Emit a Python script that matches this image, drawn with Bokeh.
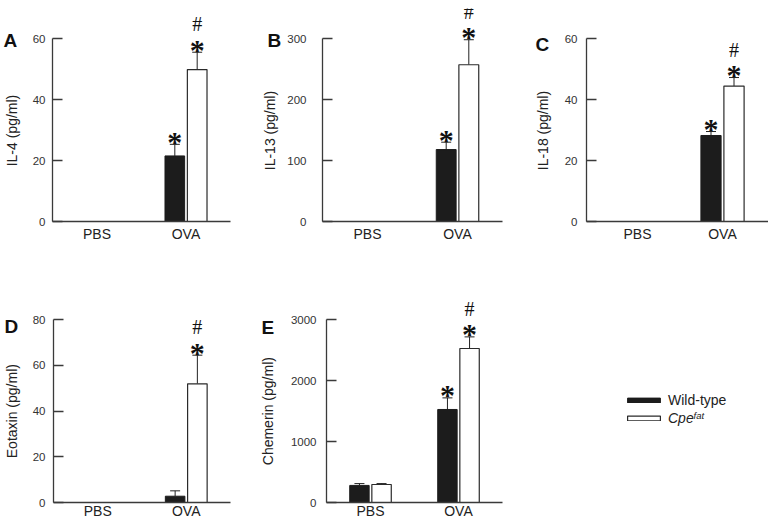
from bokeh.plotting import figure
from bokeh.models import (ColumnDataSource, Range1d, FixedTicker, Whisker, TeeHead,
                          LabelSet, Label, Legend, LegendItem, Title)
from bokeh.transform import dodge
from bokeh.layouts import column, row
from bokeh.embed import file_html
from bokeh.resources import INLINE

# ---------------- data ----------------
categories = ["PBS", "OVA"]
genotypes = ["Wild-type", "Cpe"]

il4_wt = [0, 21.5]
il4_wt_sem = [0, 3.8]
il4_cpe = [0, 49.8]
il4_cpe_sem = [0, 5.7]
il4_wt_mark = ["", "*"]
il4_cpe_mark = ["", "*"]
il4_cpe_hash = ["", "#"]
il4_ticks = [0, 20, 40, 60]

il13_wt = [0, 118]
il13_wt_sem = [0, 12]
il13_cpe = [0, 257]
il13_cpe_sem = [0, 41]
il13_wt_mark = ["", "*"]
il13_cpe_mark = ["", "*"]
il13_cpe_hash = ["", "#"]
il13_ticks = [0, 100, 200, 300]

il18_wt = [0, 28.2]
il18_wt_sem = [0, 1.3]
il18_cpe = [0, 44.4]
il18_cpe_sem = [0, 2.8]
il18_wt_mark = ["", "*"]
il18_cpe_mark = ["", "*"]
il18_cpe_hash = ["", "#"]
il18_ticks = [0, 20, 40, 60]

eot_wt = [0, 2.75]
eot_wt_sem = [0, 2.35]
eot_cpe = [0, 51.9]
eot_cpe_sem = [0, 12.5]
eot_wt_mark = ["", ""]
eot_cpe_mark = ["", "*"]
eot_cpe_hash = ["", "#"]
eot_ticks = [0, 20, 40, 60, 80]

chem_wt = [280, 1525]
chem_wt_sem = [30, 190]
chem_cpe = [295, 2525]
chem_cpe_sem = [15, 190]
chem_wt_mark = ["", "*"]
chem_cpe_mark = ["", "*"]
chem_cpe_hash = ["", "#"]
chem_ticks = [0, 1000, 2000, 3000]

# ---------------- style ----------------
FONT = "Liberation Sans"
AX = "#3a3a3a"
TXT = "#222222"
BLACK = "#1c1c1c"
DODGE_PX = 11.5      # bar centre offset from category centre (px)
BAR_PX = 20.2        # bar width (px)
TICK_SPAN_PX = 183   # pixel span of the tick range
NBSP = "\u00a0"


def make_panel(letter, ylabel, ticks, wt, wt_sem, cpe, cpe_sem, wt_mark, cpe_mark, cpe_hash,
               width, height, bl, br, bt, bb, px_unit, x_start, tick_standoff, label_standoff,
               x_standoff, letter_offset, letter_standoff, pad_n):
    frame_w = width - bl - br
    frame_h = height - bt - bb
    y_end = ticks[-1] * frame_h / TICK_SPAN_PX
    p = figure(width=width, height=height, output_backend="svg", toolbar_location=None,
               x_range=Range1d(x_start, x_start + frame_w / px_unit),
               y_range=Range1d(ticks[0], y_end), title=None,
               min_border_left=bl, min_border_right=br, min_border_top=bt,
               min_border_bottom=bb, tools="")
    p.outline_line_color = None
    p.grid.visible = False
    p.background_fill_color = "white"
    p.border_fill_color = "white"

    dd = DODGE_PX / px_unit
    bw = BAR_PX / px_unit
    xs = list(range(len(categories)))
    wt_top = [v + s for v, s in zip(wt, wt_sem)]
    cpe_top = [v + s for v, s in zip(cpe, cpe_sem)]
    s_wt = ColumnDataSource(dict(x=xs, val=wt, top=wt_top, mark=wt_mark))
    s_cpe = ColumnDataSource(dict(x=xs, val=cpe, top=cpe_top, mark=cpe_mark, hash=cpe_hash))

    r_wt = p.vbar(x=dodge("x", -dd), top="val", bottom=0, width=bw, source=s_wt,
                  fill_color=BLACK, line_color=BLACK, line_width=1)
    r_cpe = p.vbar(x=dodge("x", dd), top="val", bottom=0, width=bw, source=s_cpe,
                   fill_color="white", line_color="#2a2a2a", line_width=1.2)

    for src, off in ((s_wt, -dd), (s_cpe, dd)):
        p.add_layout(Whisker(base=dodge("x", off), lower="val", upper="top", source=src,
                             dimension="height", line_color="#222222", line_width=1,
                             lower_head=None,
                             upper_head=TeeHead(size=10, line_color="#222222", line_width=1)))
        p.add_layout(LabelSet(x=dodge("x", off), y="top", text="mark", source=src,
                              text_font=FONT, text_font_size="30px", text_font_style="bold",
                              text_align="center", text_baseline="alphabetic",
                              text_color="#111111", y_offset=-7.5))
    p.add_layout(LabelSet(x=dodge("x", dd), y="top", text="hash", source=s_cpe,
                          text_font=FONT, text_font_size="20px",
                          text_align="center", text_baseline="alphabetic",
                          text_color="#111111", y_offset=21))

    # y axis (line limited to the tick range)
    p.yaxis.bounds = (ticks[0], ticks[-1])
    p.yaxis.ticker = FixedTicker(ticks=ticks)
    p.yaxis.axis_label = ylabel + NBSP * pad_n
    p.yaxis.axis_label_text_font = FONT
    p.yaxis.axis_label_text_font_size = "14px"
    p.yaxis.axis_label_text_font_style = "normal"
    p.yaxis.axis_label_text_color = TXT
    p.yaxis.axis_label_standoff = label_standoff
    p.yaxis.major_label_text_font = FONT
    p.yaxis.major_label_text_font_size = "11.5px"
    p.yaxis.major_label_text_color = "#333333"
    p.yaxis.major_label_standoff = tick_standoff
    p.yaxis.major_tick_in = 10
    p.yaxis.major_tick_out = 0
    p.yaxis.minor_tick_line_color = None
    p.yaxis.axis_line_color = AX
    p.yaxis.axis_line_width = 1.3
    p.yaxis.major_tick_line_color = AX
    p.yaxis.major_tick_line_width = 1.3

    # x axis
    p.xaxis.ticker = FixedTicker(ticks=xs)
    p.xaxis.major_label_overrides = {i: c for i, c in enumerate(categories)}
    p.xaxis.major_label_text_font = FONT
    p.xaxis.major_label_text_font_size = "14px"
    p.xaxis.major_label_text_color = TXT
    p.xaxis.major_label_standoff = x_standoff
    p.xaxis.major_tick_in = 0
    p.xaxis.major_tick_out = 0
    p.xaxis.minor_tick_line_color = None
    p.xaxis.axis_line_color = AX
    p.xaxis.axis_line_width = 1.3

    # panel letter
    p.add_layout(Title(text=letter, align="left", offset=letter_offset, standoff=letter_standoff,
                       vertical_align="bottom", text_font=FONT, text_font_size="19px",
                       text_font_style="bold", text_color="#111111"), "above")
    return p, r_wt, r_cpe


# Row 1: height 268 = 8 + 213 + 47
pA, _, _ = make_panel("A", "IL-4 (pg/ml)", il4_ticks, il4_wt, il4_wt_sem, il4_cpe, il4_cpe_sem,
                      il4_wt_mark, il4_cpe_mark, il4_cpe_hash,
                      259, 268, 47, 29, 8, 47, 91.5, -0.5, 7, 10, 4, -49, -84, 8)
pB, _, _ = make_panel("B", "IL-13 (pg/ml)", il13_ticks, il13_wt, il13_wt_sem, il13_cpe, il13_cpe_sem,
                      il13_wt_mark, il13_cpe_mark, il13_cpe_hash,
                      271, 268, 60, 28, 8, 47, 91.5, -0.5, 16, 6, 4, -55, -84, 8)
pC, _, _ = make_panel("C", "IL-18 (pg/ml)", il18_ticks, il18_wt, il18_wt_sem, il18_cpe, il18_cpe_sem,
                      il18_wt_mark, il18_cpe_mark, il18_cpe_hash,
                      238, 268, 56, 0, 8, 47, 85.0, -0.6, 9, 11, 4, -51, -92, 8)

# Row 2: height 257 = 28 + 206 + 23
pD, _, _ = make_panel("D", "Eotaxin (pg/ml)", eot_ticks, eot_wt, eot_wt_sem, eot_cpe, eot_cpe_sem,
                      eot_wt_mark, eot_cpe_mark, eot_cpe_hash,
                      256, 257, 47, 26, 28, 23, 91.5, -0.5, 8, 10, 0, -49, -80, 6)
pE, rw, rc = make_panel("E", "Chemerin (pg/ml)", chem_ticks, chem_wt, chem_wt_sem, chem_cpe, chem_cpe_sem,
                        chem_wt_mark, chem_cpe_mark, chem_cpe_hash,
                        256, 257, 63, 10, 28, 23, 91.5, -0.5, 10, 12, 0, -65, -82, 6)

# Legend panel (frame fills the whole figure); swatch renderers carry no drawable data
NAN = float("nan")
pL = figure(width=256, height=257, output_backend="svg", toolbar_location=None, tools="",
            x_range=Range1d(0, 1), y_range=Range1d(0, 1), x_axis_type=None, y_axis_type=None,
            min_border=0, title=None)
pL.outline_line_color = None
pL.grid.visible = False
lw = pL.vbar(x=[NAN], top=[NAN], bottom=[NAN], width=0.1, fill_color=BLACK, line_color=BLACK,
             line_width=1)
lc = pL.vbar(x=[NAN], top=[NAN], bottom=[NAN], width=0.1, fill_color="white",
             line_color="#2a2a2a", line_width=1.2)
leg_common = dict(orientation="vertical", glyph_width=41, glyph_height=6, label_height=16,
                  label_width=10, label_standoff=4, padding=0, margin=0, spacing=0,
                  border_line_color=None, background_fill_alpha=0,
                  label_text_font=FONT, label_text_font_size="14px", label_text_color=TXT)
leg1 = Legend(items=[LegendItem(label=genotypes[0], renderers=[lw])], location=(111, 94), **leg_common)
leg2 = Legend(items=[LegendItem(label=genotypes[1], renderers=[lc])], location=(111, 76),
              label_text_font_style="italic", **leg_common)
pL.add_layout(leg1)
pL.add_layout(leg2)
pL.add_layout(Label(x=181, y=87, x_units="screen", y_units="screen", text="fat",
                    text_font=FONT, text_font_size="9.5px", text_font_style="italic",
                    text_color=TXT, text_baseline="alphabetic"))

layout = column(row(pA, pB, pC), row(pD, pE, pL))
open("out.html", "w").write(file_html(layout, INLINE))
